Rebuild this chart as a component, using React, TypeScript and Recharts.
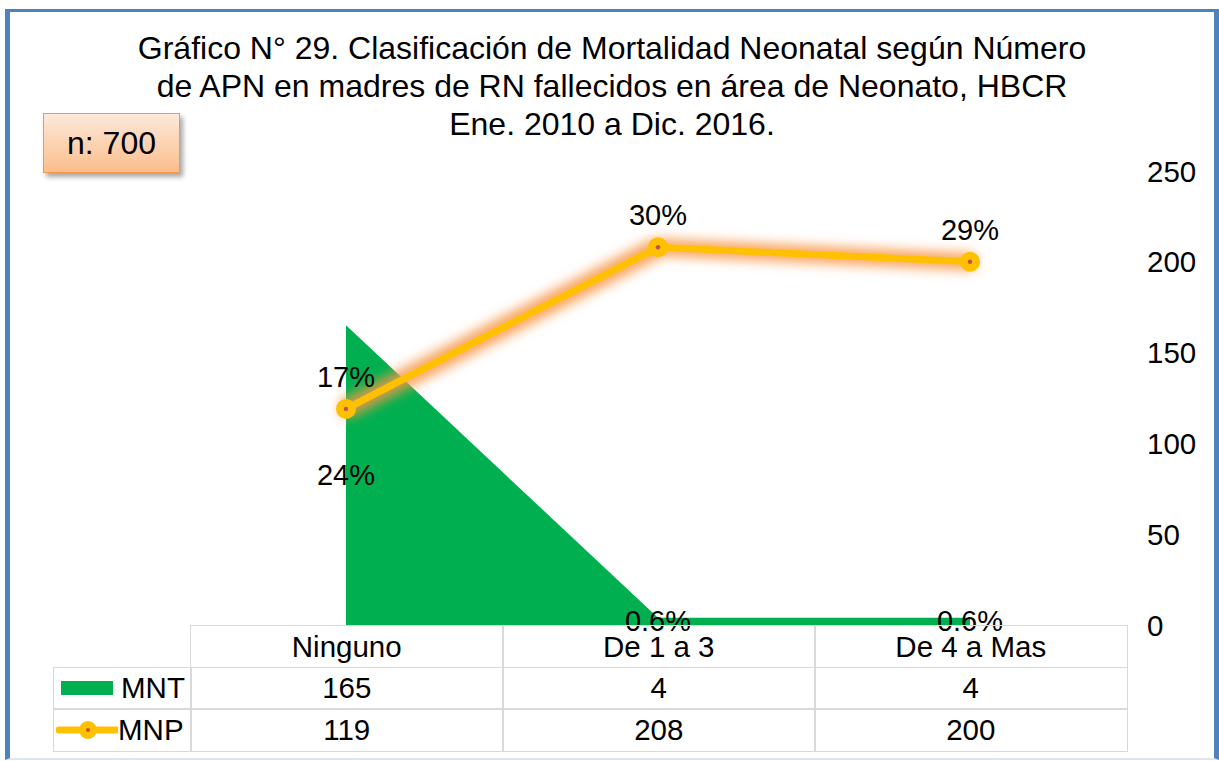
import React from "react";
import { ComposedChart, Area, Line, XAxis, YAxis, LabelList } from "recharts";

const categories = ["Ninguno", "De 1 a 3", "De 4 a Mas"];
const mntValues = [165, 4, 4];
const mnpValues = [119, 208, 200];
const mntLabels = ["24%", "0.6%", "0.6%"];
const mnpLabels = ["17%", "30%", "29%"];
const yTicks = [0, 50, 100, 150, 200, 250];
const titleLines = [
  "Gráfico N° 29. Clasificación de Mortalidad Neonatal según Número",
  "de APN en madres de RN fallecidos en área de Neonato, HBCR",
  "Ene. 2010 a Dic. 2016.",
];
const nLabel = "n: 700";

const data = categories.map((c, i) => ({
  cat: c,
  MNT: mntValues[i],
  MNP: mnpValues[i],
  mntLabel: mntLabels[i],
  mnpLabel: mnpLabels[i],
}));

const W = 1219;
const H = 761;
const Y_AXIS_W = 80;
const MARGIN = { top: 171, right: 13, bottom: 136, left: 190 };
const PLOT_LEFT = MARGIN.left;
const PLOT_RIGHT = W - MARGIN.right - Y_AXIS_W;
const PLOT_BOTTOM = H - MARGIN.bottom;
const BAND = (PLOT_RIGHT - PLOT_LEFT) / categories.length;
const FONT = "Arial, 'Liberation Sans', sans-serif";
const FS = 29.5;
const LABEL_FS = 29;
const TITLE_FS = 32;
const GREEN = "#00B050";
const GOLD = "#FFC000";
const GRID = "#D9D9D9";
const ROW_H = 41.7;
const LABEL_COL_LEFT = 53;

const MnpDot = (props: any) => {
  const { cx, cy } = props;
  if (cx == null || cy == null) return null;
  return (
    <g>
      <circle cx={cx} cy={cy} r={10} fill={GOLD} />
      <circle cx={cx} cy={cy} r={2.2} fill="#C0504D" />
    </g>
  );
};

const MnpLabel = (props: any) => {
  const { x, y, value } = props;
  return (
    <text x={x} y={y - 32} textAnchor="middle" dominantBaseline="central" fontFamily={FONT} fontSize={LABEL_FS} fill="#000">
      {value}
    </text>
  );
};

const MntLabel = (props: any) => {
  const { x, y, value } = props;
  const mid = (y + PLOT_BOTTOM) / 2;
  return (
    <text x={x} y={mid} textAnchor="middle" dominantBaseline="central" fontFamily={FONT} fontSize={LABEL_FS} fill="#000">
      {value}
    </text>
  );
};

const YTick = (props: any) => {
  const { x, y, payload } = props;
  return (
    <text x={x} y={y} textAnchor="start" dominantBaseline="central" fontFamily={FONT} fontSize={FS} fill="#000">
      {payload.value}
    </text>
  );
};

const cellBase: React.CSSProperties = {
  position: "absolute",
  boxSizing: "border-box",
  display: "flex",
  alignItems: "center",
  justifyContent: "center",
  fontFamily: FONT,
  fontSize: FS,
  color: "#000",
};

export default function App() {
  const tableTop = PLOT_BOTTOM;
  const rows = [
    { key: "MNT", values: mntValues },
    { key: "MNP", values: mnpValues },
  ];
  return (
    <div style={{ position: "relative", width: W, height: H, background: "#fff", overflow: "hidden" }}>
      <style>{`body{margin:0;} .mnp-line .recharts-line-curve, .mnp-line .recharts-line-dots { filter: url(#mnpGlow); }`}</style>
      <svg width={0} height={0} style={{ position: "absolute" }}>
        <defs>
          <filter id="mnpGlow" x="-20%" y="-60%" width="140%" height="220%" filterUnits="objectBoundingBox">
            <feMorphology in="SourceAlpha" operator="dilate" radius="5" result="d" />
            <feGaussianBlur in="d" stdDeviation="6" result="b" />
            <feFlood floodColor="#F79646" floodOpacity="0.85" />
            <feComposite in2="b" operator="in" result="g" />
            <feMerge>
              <feMergeNode in="g" />
              <feMergeNode in="SourceGraphic" />
            </feMerge>
          </filter>
        </defs>
      </svg>
      {/* frame */}
      <div
        style={{
          position: "absolute",
          left: 5,
          top: 9,
          width: W - 5,
          height: H - 9 - 1,
          boxSizing: "border-box",
          borderLeft: "5px solid #4F81BD",
          borderTop: "3px solid #4F81BD",
          borderRight: "5px solid #4F81BD",
          borderBottom: "2px solid #DCE6F2",
        }}
      />
      {/* title */}
      <div
        style={{
          position: "absolute",
          left: 0,
          width: 1224,
          top: 29,
          textAlign: "center",
          fontFamily: FONT,
          fontSize: TITLE_FS,
          lineHeight: "38px",
          color: "#000",
        }}
      >
        {titleLines.map((t, i) => (
          <div key={i}>{t}</div>
        ))}
      </div>
      {/* n box */}
      <div
        style={{
          ...cellBase,
          fontSize: TITLE_FS,
          left: 43,
          top: 113,
          width: 137,
          height: 60,
          border: "1.5px solid #F79646",
          background: "linear-gradient(to bottom, #FDE9DB, #FBBE8C)",
          boxShadow: "3px 4px 5px rgba(0,0,0,0.35)",
        }}
      >
        {nLabel}
      </div>
      <div style={{ position: "absolute", left: 0, top: 0 }}>
        <ComposedChart width={W} height={H} data={data} margin={MARGIN}>
          <XAxis dataKey="cat" hide padding={{ left: BAND / 2, right: BAND / 2 }} />
          <YAxis
            orientation="right"
            domain={[0, 250]}
            ticks={yTicks}
            width={Y_AXIS_W}
            axisLine={false}
            tickLine={false}
            tickSize={0}
            tickMargin={21}
            tick={<YTick />}
            interval={0}
          />
          <Area
            type="linear"
            dataKey="MNT"
            fill={GREEN}
            fillOpacity={1}
            stroke="none"
            isAnimationActive={false}
          >
            <LabelList dataKey="mntLabel" content={<MntLabel />} />
          </Area>
          <Line
            type="linear"
            dataKey="MNP"
            stroke={GOLD}
            strokeWidth={7}
            className="mnp-line"
            dot={<MnpDot />}
            activeDot={false}
            isAnimationActive={false}
          >
            <LabelList dataKey="mnpLabel" content={<MnpLabel />} />
          </Line>
        </ComposedChart>
      </div>
      {/* data table */}
      {categories.map((c, i) => (
        <div
          key={"h" + i}
          style={{
            ...cellBase,
            left: PLOT_LEFT + i * BAND,
            top: tableTop,
            width: BAND + 1.5,
            height: ROW_H + 1.5,
            border: `1.5px solid ${GRID}`,
          }}
        >
          {c}
        </div>
      ))}
      {rows.map((r, ri) => (
        <React.Fragment key={r.key}>
          <div
            style={{
              ...cellBase,
              justifyContent: "flex-start",
              left: LABEL_COL_LEFT,
              top: tableTop + (ri + 1) * ROW_H,
              width: PLOT_LEFT - LABEL_COL_LEFT + 1.5,
              height: ROW_H + 1.5,
              border: `1.5px solid ${GRID}`,
            }}
          >
            {r.key === "MNT" ? (
              <svg width={62} height={20} style={{ marginLeft: 5 }}>
                <rect x={2} y={3} width={52} height={14} fill={GREEN} />
              </svg>
            ) : (
              <svg width={62} height={24} style={{ marginLeft: 2 }}>
                <line x1={3} y1={12} x2={61} y2={12} stroke={GOLD} strokeWidth={7} strokeLinecap="round" />
                <circle cx={32} cy={12} r={9} fill={GOLD} />
                <circle cx={32} cy={12} r={2} fill="#C0504D" />
              </svg>
            )}
            <span>{r.key}</span>
          </div>
          {r.values.map((v, i) => (
            <div
              key={r.key + i}
              style={{
                ...cellBase,
                left: PLOT_LEFT + i * BAND,
                top: tableTop + (ri + 1) * ROW_H,
                width: BAND + 1.5,
                height: ROW_H + 1.5,
                border: `1.5px solid ${GRID}`,
              }}
            >
              {v}
            </div>
          ))}
        </React.Fragment>
      ))}
    </div>
  );
}
